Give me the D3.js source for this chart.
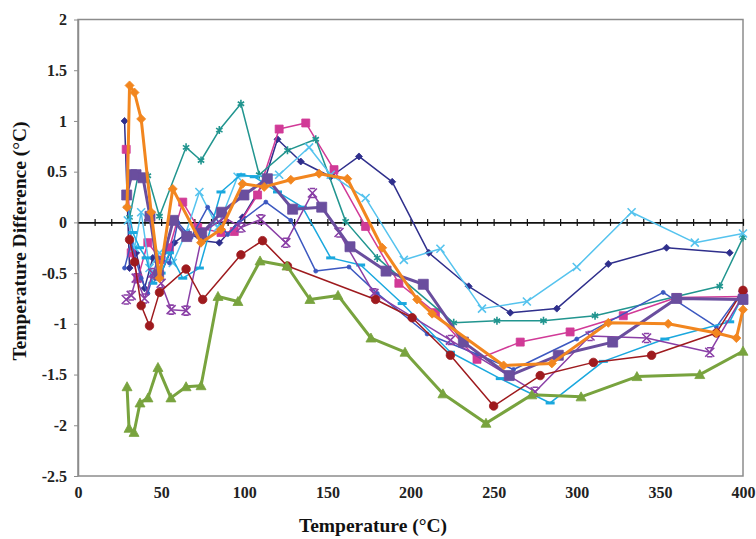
<!DOCTYPE html>
<html>
<head>
<meta charset="utf-8">
<script src="https://cdn.jsdelivr.net/npm/d3@7"></script>
<style>
  html, body { margin: 0; padding: 0; background: #fff; }
  svg { display: block; }
  .tick text { font-family: "Liberation Serif", "Times New Roman", serif; font-weight: bold; fill: #222; }
</style>
</head>
<body>
<svg id="chart" width="756" height="539"></svg>
<script>
// Temperature difference readings, one array of [temperature °C, difference °C] per run
const runNavy = [[28,1.0],[31,-0.45],[35,-0.3],[40,-0.65],[45,-0.35],[50,-0.5],[58,-0.2],[66,-0.1],[75,-0.18],[85,-0.2],[99,0.05],[112,0.4],[120,0.82],[134,0.6],[152,0.45],[169,0.65],[189,0.4],[211,-0.3],[235,-0.63],[260,-0.89],[288,-0.85],[319,-0.41],[354,-0.25],[392,-0.3]];
const runMagenta = [[29,0.72],[32,-0.3],[36,-0.55],[42,-0.2],[50,-0.37],[55,-0.25],[63,0.2],[72,-0.05],[86,-0.1],[94,-0.09],[108,0.27],[121,0.92],[137,0.98],[154,0.52],[173,-0.04],[193,-0.6],[215,-0.89],[240,-1.35],[266,-1.18],[296,-1.08],[328,-0.92],[360,-0.74],[400,-0.73]];
const runTeal = [[31,0.05],[36,0.45],[42,0.46],[49,0.06],[65,0.74],[74,0.61],[85,0.91],[98,1.17],[109,0.47],[126,0.71],[143,0.82],[161,0.01],[180,-0.35],[226,-0.99],[252,-0.97],[280,-0.97],[311,-0.92],[386,-0.63],[400,-0.15]];
const runSky = [[30,0.02],[34,-0.25],[38,0.1],[43,-0.45],[49,-0.3],[57,-0.4],[65,-0.1],[73,0.3],[84,-0.05],[96,0.45],[121,0.47],[139,0.74],[152,0.47],[173,0.24],[196,-0.37],[218,-0.26],[243,-0.85],[270,-0.78],[300,-0.44],[333,0.1],[371,-0.2],[400,-0.11]];
const runRoyal = [[28,-0.45],[32,-0.2],[38,-0.55],[42,-0.7],[48,-0.35],[55,-0.4],[60,0.0],[68,-0.15],[78,0.15],[90,-0.12],[97,0.0],[113,0.2],[128,0.02],[143,-0.48],[163,-0.44],[180,-0.7],[210,-1.1],[240,-1.3],[262,-1.45],[300,-1.15],[352,-0.69],[384,-1.03],[400,-0.67]];
const runCyan = [[30,0.15],[33,-0.1],[37,-0.25],[41,-0.35],[45,-0.6],[50,-0.5],[55,-0.3],[63,-0.55],[73,-0.45],[86,0.3],[98,0.47],[106,0.45],[120,0.3],[135,0.15],[152,-0.35],[170,-0.42],[195,-0.8],[224,-1.28],[254,-1.54],[284,-1.78],[316,-1.37],[353,-1.15],[392,-0.98],[400,-0.72]];
const runViolet = [[29,-0.76],[32,-0.72],[35,-0.55],[40,-0.75],[45,-0.5],[50,-0.6],[56,-0.86],[65,-0.87],[75,-0.1],[88,0.05],[98,-0.05],[110,0.03],[125,-0.2],[141,0.29],[157,-0.1],[178,-0.7],[224,-1.16],[275,-1.67],[308,-1.12],[342,-1.14],[380,-1.28],[400,-0.72]];
const runRed = [[31,-0.17],[34,-0.39],[38,-0.82],[43,-1.02],[49,-0.69],[65,-0.46],[75,-0.76],[98,-0.32],[111,-0.18],[126,-0.43],[179,-0.76],[201,-0.94],[224,-1.31],[250,-1.81],[278,-1.51],[310,-1.38],[345,-1.31],[384,-1.09],[400,-0.67]];
const runPurple = [[29.3,0.27],[32.3,0.47],[34.9,0.47],[39.1,0.44],[43.3,0.06],[48.5,-0.52],[57.3,0.02],[65.4,-0.14],[74.4,-0.11],[86.4,0.1],[99.8,0.27],[113.9,0.43],[129.1,0.13],[146.6,0.15],[163.6,-0.24],[185.3,-0.48],[207.7,-0.61],[231.8,-1.18],[259.4,-1.51],[288.9,-1.31],[321.6,-1.18],[360.1,-0.75],[400,-0.76]];
const runOrange = [[29.5,0.15],[31,1.35],[34,1.28],[38,1.02],[44,0.1],[49,-0.55],[57,0.33],[74,-0.2],[86,-0.07],[99,0.38],[112,0.35],[128,0.42],[145,0.48],[162,0.43],[183,-0.25],[204,-0.76],[213,-0.9],[256,-1.41],[285,-1.39],[319,-0.99],[355,-1.0],[384,-1.09],[396,-1.14],[400,-0.86]];
const runGreen = [[29.5,-1.62],[30.7,-2.03],[33.7,-2.07],[37.3,-1.78],[42.1,-1.73],[48.1,-1.43],[55.9,-1.73],[65,-1.62],[74,-1.61],[84.2,-0.73],[96.2,-0.78],[109.5,-0.38],[125.7,-0.43],[139.5,-0.76],[156.4,-0.72],[176.2,-1.14],[196.7,-1.28],[219.5,-1.69],[245.4,-1.98],[273,-1.70],[302.6,-1.72],[336.2,-1.52],[374,-1.50],[400,-1.27]];

const xTicks = [0, 50, 100, 150, 200, 250, 300, 350, 400];
const xMinorTicks = d3.range(10, 401, 10);
const yTicks = [-2.5, -2, -1.5, -1, -0.5, 0, 0.5, 1, 1.5, 2];
const xTitle = "Temperature (°C)";
const yTitle = "Temperature Difference (°C)";

// Each series: data, colour, line width, marker shape
const series = [
  { data: runNavy,    color: "#2F2F8C", width: 1.5, marker: "diamond", size: 7 },
  { data: runMagenta, color: "#D13A97", width: 1.5, marker: "square",  size: 8 },
  { data: runTeal,    color: "#21958F", width: 1.5, marker: "asterisk", size: 8 },
  { data: runSky,     color: "#55C3EE", width: 1.5, marker: "times",   size: 8 },
  { data: runRoyal,   color: "#3C58C0", width: 1.5, marker: "dot",     size: 4 },
  { data: runCyan,    color: "#1AA8DE", width: 1.5, marker: "dash",    size: 9 },
  { data: runViolet,  color: "#8A3FA6", width: 1.5, marker: "hourglass", size: 9 },
  { data: runRed,     color: "#9E1A1E", width: 1.5, marker: "circle",  size: 8.5 },
  { data: runPurple,  color: "#6A4E9E", width: 3,   marker: "square",  size: 10 },
  { data: runOrange,  color: "#F2861F", width: 3,   marker: "diamond", size: 9 },
  { data: runGreen,   color: "#78A33E", width: 3,   marker: "triangle", size: 10 }
];

const svg = d3.select("#chart");
const x = d3.scaleLinear().domain([0, 400]).range([78, 743]);
const y = d3.scaleLinear().domain([-2.5, 2]).range([476, 19.5]);

// Plot area frame
svg.append("rect")
  .attr("x", x(0)).attr("y", y(2))
  .attr("width", x(400) - x(0)).attr("height", y(-2.5) - y(2))
  .attr("fill", "#fff").attr("stroke", "#8c8c8c").attr("stroke-width", 1.5);

// Left axis with labels
const fmt = d => String(d);
svg.append("g")
  .attr("transform", `translate(${x(0)},0)`)
  .call(d3.axisLeft(y).tickValues(yTicks).tickFormat(fmt).tickSizeInner(4).tickSizeOuter(0).tickPadding(7))
  .call(g => g.select(".domain").attr("stroke", "#8c8c8c").attr("stroke-width", 1.5))
  .call(g => g.selectAll(".tick line").attr("stroke", "#8c8c8c"))
  .call(g => g.selectAll(".tick text").attr("font-size", 16));

// Bottom labels
svg.append("g")
  .attr("transform", `translate(0,${y(-2.5)})`)
  .call(d3.axisBottom(x).tickValues(xTicks).tickFormat(fmt).tickSize(0).tickPadding(11))
  .call(g => g.select(".domain").remove())
  .call(g => g.selectAll(".tick text").attr("font-size", 16));

// Zero line with crossing tick marks
svg.append("g")
  .attr("transform", `translate(0,${y(0)})`)
  .call(d3.axisBottom(x).tickValues(xMinorTicks).tickFormat("").tickSizeOuter(0))
  .call(g => g.select(".domain").attr("stroke", "#111").attr("stroke-width", 1.8))
  .call(g => g.selectAll(".tick line").attr("y1", -3.5).attr("y2", 3.5).attr("stroke", "#111").attr("stroke-width", 1.2));

// Marker shapes
function markerPath(kind, s) {
  const h = s / 2;
  switch (kind) {
    case "diamond": return `M0,${-h}L${h},0L0,${h}L${-h},0Z`;
    case "square": return `M${-h},${-h}H${h}V${h}H${-h}Z`;
    case "triangle": return `M0,${-h}L${h},${h * 0.8}L${-h},${h * 0.8}Z`;
    case "circle": return d3.symbol(d3.symbolCircle, Math.PI * h * h)();
    case "dot": return d3.symbol(d3.symbolCircle, Math.PI * h * h)();
    case "asterisk": return `M0,${-h}V${h}M${-h * 0.8},${-h * 0.5}L${h * 0.8},${h * 0.5}M${-h * 0.8},${h * 0.5}L${h * 0.8},${-h * 0.5}`;
    case "times": return `M${-h},${-h}L${h},${h}M${-h},${h}L${h},${-h}`;
    case "hourglass": return `M${-h},${-h}L${h},${h}M${-h},${h}L${h},${-h}M${-h * 0.6},${-h}H${h * 0.6}M${-h * 0.6},${h}H${h * 0.6}`;
    case "dash": return `M${-h},0H${h}`;
  }
}
const strokeMarkers = new Set(["asterisk", "times", "hourglass", "dash"]);

const line = d3.line().x(d => x(d[0])).y(d => y(d[1]));
const plot = svg.append("g");

series.forEach(s => {
  const g = plot.append("g");
  g.append("path")
    .datum(s.data)
    .attr("d", line)
    .attr("fill", "none")
    .attr("stroke", s.color)
    .attr("stroke-width", s.width)
    .attr("stroke-linejoin", "round");
  const stroke = strokeMarkers.has(s.marker);
  g.selectAll("path.m")
    .data(s.data)
    .join("path")
    .attr("class", "m")
    .attr("transform", d => `translate(${x(d[0])},${y(d[1])})`)
    .attr("d", markerPath(s.marker, s.size))
    .attr("fill", stroke ? "none" : s.color)
    .attr("stroke", s.color)
    .attr("stroke-width", stroke ? (s.marker === "dash" ? 3 : 1.6) : 0.8);
});

// Axis titles
svg.append("text")
  .attr("x", 373).attr("y", 532)
  .attr("text-anchor", "middle")
  .attr("font-family", "'Liberation Serif', 'Times New Roman', serif")
  .attr("font-weight", "bold").attr("font-size", 19.5).attr("fill", "#111")
  .text(xTitle);

svg.append("text")
  .attr("transform", "translate(26,241) rotate(-90)")
  .attr("text-anchor", "middle")
  .attr("font-family", "'Liberation Serif', 'Times New Roman', serif")
  .attr("font-weight", "bold").attr("font-size", 19.5).attr("fill", "#111")
  .text(yTitle);
</script>
</body>
</html>
